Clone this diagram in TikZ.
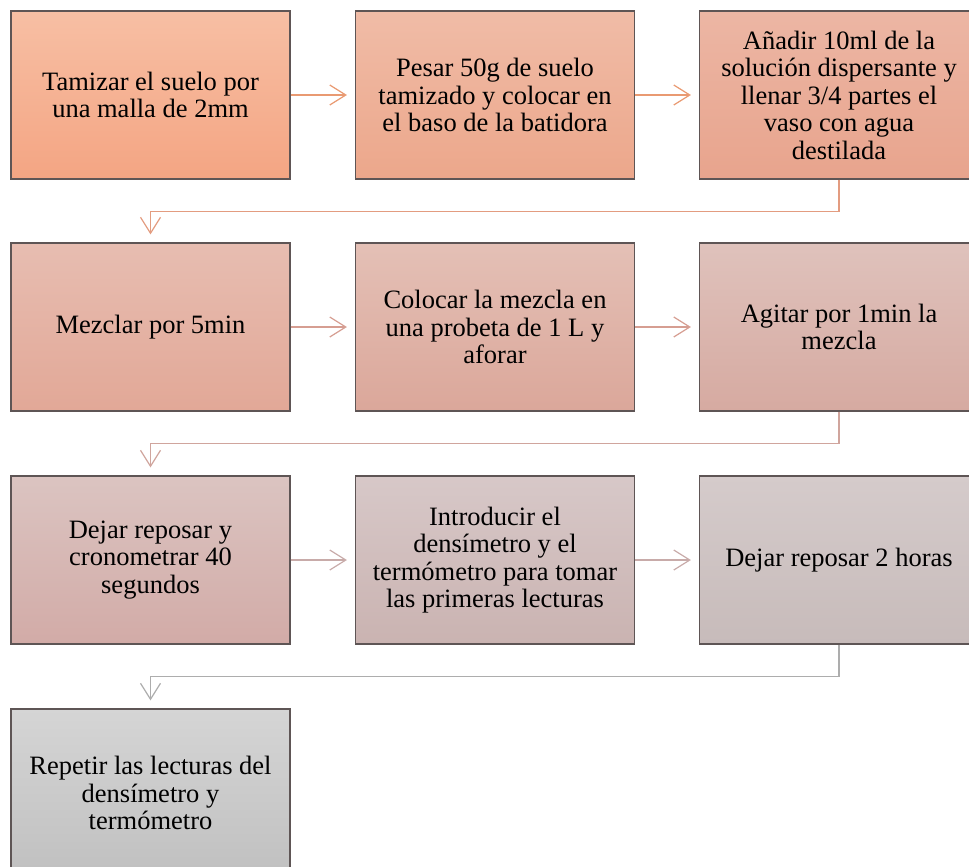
\documentclass[tikz,border=0pt]{standalone}
\usepackage{fontspec}
\setmainfont{Liberation Serif}
\usetikzlibrary{arrows.meta}
\definecolor{borde}{HTML}{5E5555}
\definecolor{flechaA}{HTML}{E99A72}
\definecolor{flechaB}{HTML}{E39C80}
\definecolor{flechaC}{HTML}{D69E92}
\definecolor{flechaD}{HTML}{D0A59D}
\definecolor{flechaE}{HTML}{C8ABA9}
\definecolor{flechaF}{HTML}{ADADAD}

\begin{document}
\begin{tikzpicture}[x=1pt,y=-1pt,
    paso/.style={draw=borde,line width=1.2pt,minimum width=279pt,minimum height=168pt,
      align=center,inner sep=4pt,font=\fontsize{26.5}{27.5}\selectfont},
    flecha/.style={line width=1.2pt,shorten >=8pt,-{Straight Barb[length=16pt,width=20pt]}}]
        \useasboundingbox (0,0) rectangle (969,867);

        % Fila 1
        \node[paso,top color={rgb,255:red,247;green,191;blue,164},bottom color={rgb,255:red,244;green,165;blue,131}]
          (tamizar) at (150.5,95) {Tamizar el suelo por\\una malla de 2mm};
        \node[paso,top color={rgb,255:red,240;green,188;blue,167},bottom color={rgb,255:red,236;green,167;blue,139}]
          (pesar) at (495,95) {Pesar 50g de suelo\\tamizado y colocar en\\el baso de la batidora};
        \node[paso,top color={rgb,255:red,236;green,182;blue,164},bottom color={rgb,255:red,232;green,164;blue,141}]
          (anadir) at (839,95) {Añadir 10ml de la\\solución dispersante y\\llenar 3/4 partes el\\vaso con agua\\destilada};

        % Fila 2
        \node[paso,top color={rgb,255:red,231;green,189;blue,177},bottom color={rgb,255:red,226;green,168;blue,151}]
          (mezclar) at (150.5,327) {Mezclar por 5min};
        \node[paso,top color={rgb,255:red,228;green,192;blue,182},bottom color={rgb,255:red,219;green,167;blue,154}]
          (colocar) at (495,327) {Colocar la mezcla en\\una probeta de 1 L y\\aforar};
        \node[paso,top color={rgb,255:red,223;green,194;blue,188},bottom color={rgb,255:red,214;green,170;blue,161}]
          (agitar) at (839,327) {Agitar por 1min la\\mezcla};

        % Fila 3
        \node[paso,top color={rgb,255:red,219;green,196;blue,193},bottom color={rgb,255:red,210;green,171;blue,167}]
          (reposar) at (150.5,560) {Dejar reposar y\\cronometrar 40\\segundos};
        \node[paso,top color={rgb,255:red,215;green,200;blue,200},bottom color={rgb,255:red,202;green,179;blue,177}]
          (introducir) at (495,560) {Introducir el\\densímetro y el\\termómetro para tomar\\las primeras lecturas};
        \node[paso,top color={rgb,255:red,213;green,203;blue,203},bottom color={rgb,255:red,199;green,187;blue,186}]
          (esperar) at (839,560) {Dejar reposar 2 horas};

        % Fila 4
        \node[paso,top color={rgb,255:red,213;green,213;blue,213},bottom color={rgb,255:red,192;green,192;blue,192}]
          (repetir) at (150.5,793) {Repetir las lecturas del\\densímetro y\\termómetro};

        % Conectores
        \draw[flecha,flechaA] (tamizar) -- (pesar);
        \draw[flecha,flechaA] (pesar) -- (anadir);
        \draw[flecha,flechaB] (anadir.south) -- ++(0,32) -| (mezclar.north);
        \draw[flecha,flechaC] (mezclar) -- (colocar);
        \draw[flecha,flechaC] (colocar) -- (agitar);
        \draw[flecha,flechaD] (agitar.south) -- ++(0,32) -| (reposar.north);
        \draw[flecha,flechaE] (reposar) -- (introducir);
        \draw[flecha,flechaE] (introducir) -- (esperar);
        \draw[flecha,flechaF] (esperar.south) -- ++(0,32) -| (repetir.north);
    \end{tikzpicture}
\end{document}
